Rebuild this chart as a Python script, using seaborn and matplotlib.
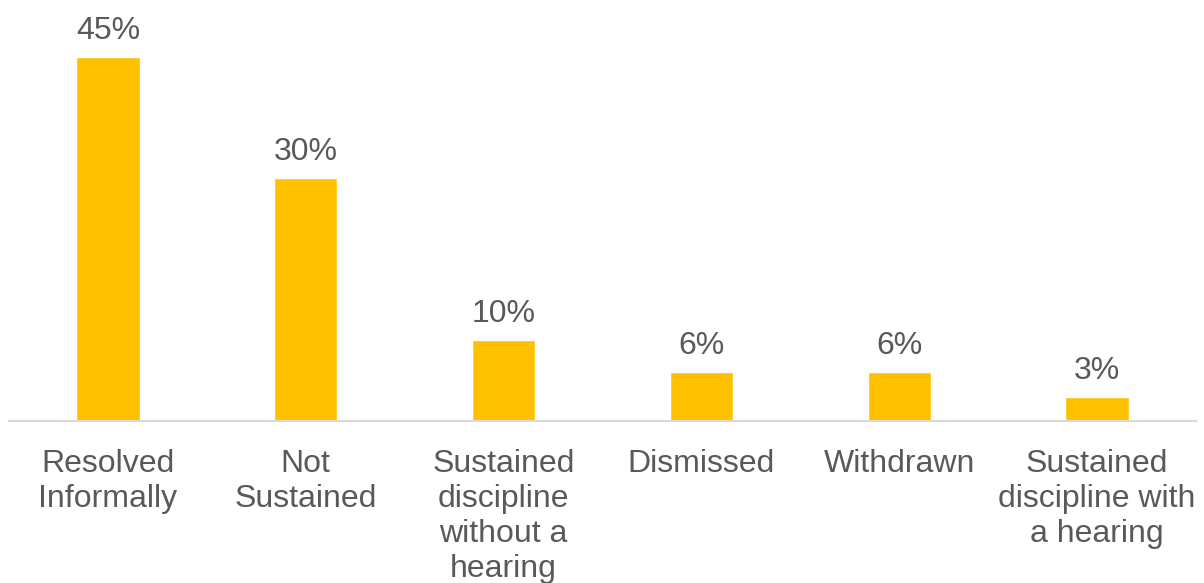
import matplotlib
matplotlib.use("Agg")
import matplotlib.pyplot as plt
import seaborn as sns
import pandas as pd

categories = ["Resolved\nInformally", "Not\nSustained", "Sustained\ndiscipline\nwithout a\nhearing",
              "Dismissed", "Withdrawn", "Sustained\ndiscipline with\na hearing"]
values = [45, 30, 10, 6, 6, 3]

df = pd.DataFrame({"outcome": categories, "pct": values})

sns.set_style("white")
plt.rcParams["font.family"] = ["Liberation Sans", "DejaVu Sans"]

fig = plt.figure(figsize=(12.04, 5.83), dpi=100)
ax = fig.add_axes([9 / 1204, 162 / 583, (1196 - 9) / 1204, 421 / 583])
sns.barplot(data=df, x="outcome", y="pct", color="#FFC000", width=0.32, saturation=1, ax=ax)

ax.bar_label(ax.containers[0], labels=[f"{v}%" for v in values], padding=8,
             fontsize=23, color="#595959")

ax.set_xlim(-0.5, 5.5)
ax.set_ylim(0, 52)
ax.set_xlabel("")
ax.set_ylabel("")
ax.set_yticks([])
for s in ["top", "right", "left"]:
    ax.spines[s].set_visible(False)
ax.spines["bottom"].set_color("#D9D9D9")
ax.spines["bottom"].set_linewidth(1.5)
ax.tick_params(axis="x", length=0, pad=20, labelsize=23, labelcolor="#595959")
for t in ax.get_xticklabels():
    t.set_linespacing(1.22)

fig.savefig("out.png", dpi=100)
